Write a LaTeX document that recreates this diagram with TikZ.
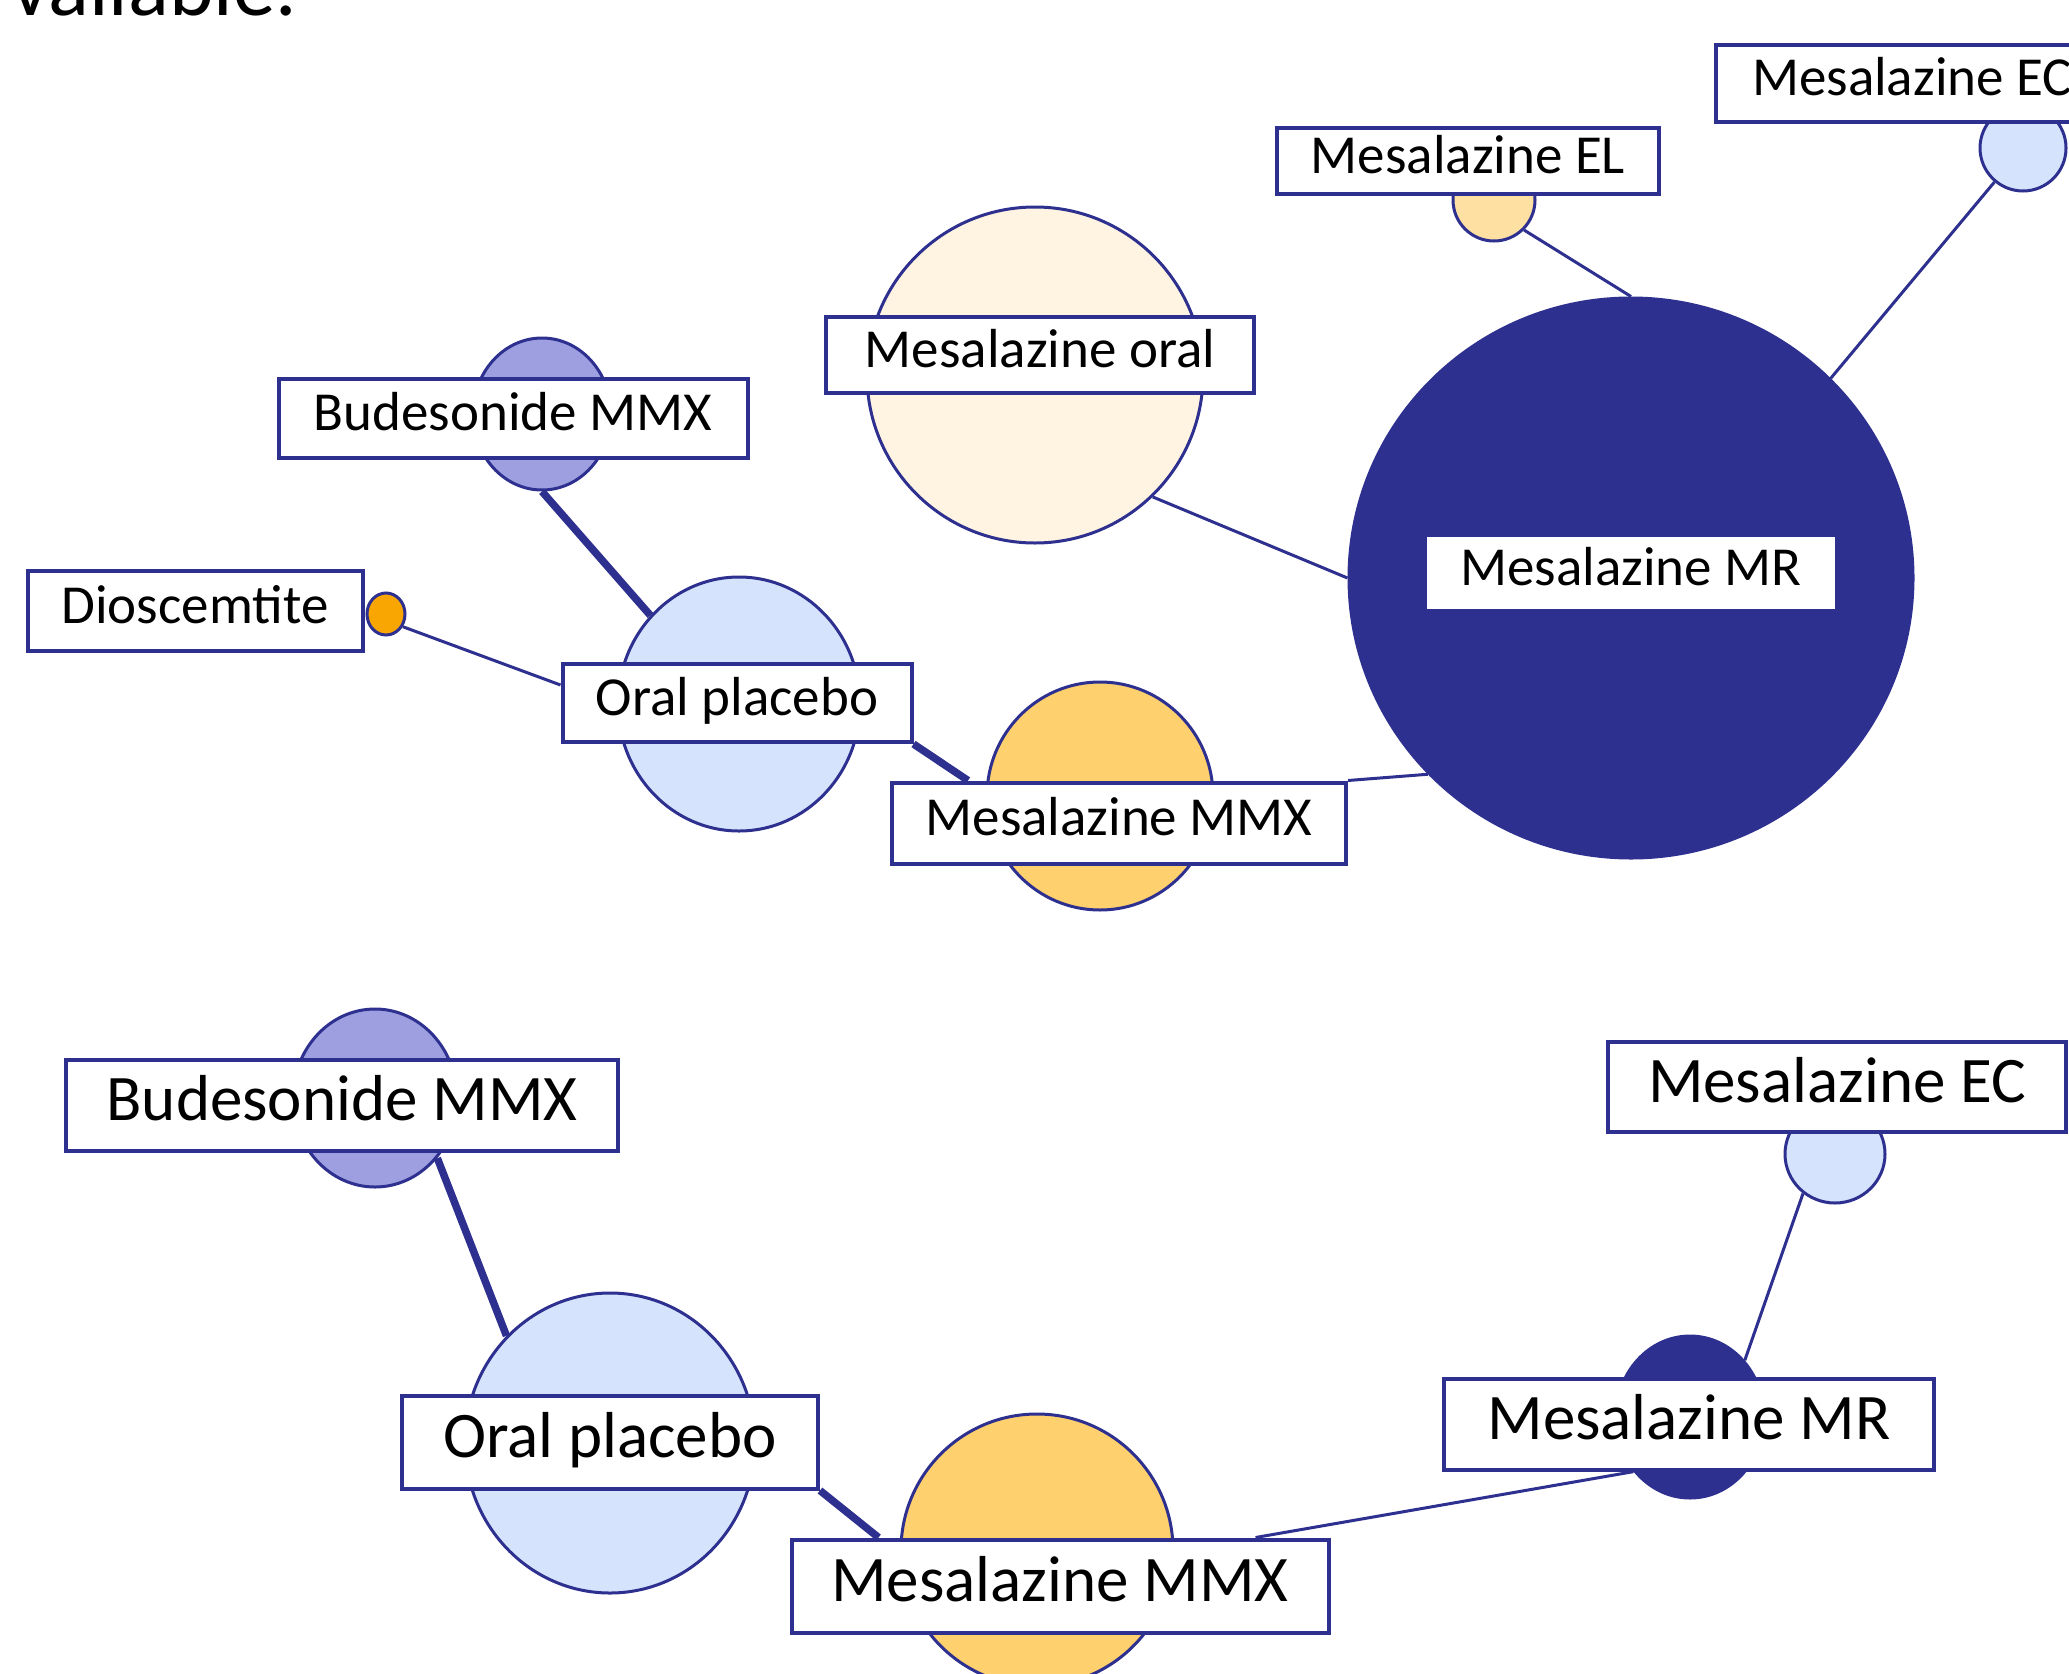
\documentclass[tikz,border=0pt]{standalone}
\usepackage{fontspec}
\setmainfont{Carlito}
\usetikzlibrary{shapes.geometric, backgrounds}

\definecolor{navy}{HTML}{2E3090}
\definecolor{paleblue}{HTML}{D5E3FC}
\definecolor{lavender}{HTML}{9D9FE0}
\definecolor{mmxorange}{HTML}{FFD06E}
\definecolor{elorange}{HTML}{FFE0A3}
\definecolor{cream}{HTML}{FFF4E1}
\definecolor{dioorange}{HTML}{F9A602}

\newcommand{\topfont}{\fontsize{55pt}{66pt}\selectfont}
\newcommand{\lowfont}{\fontsize{65pt}{78pt}\selectfont}

\begin{document}
\begin{tikzpicture}[x=1pt, y=-1pt,
    bubble/.style={ellipse, draw=navy, line width=3pt, inner sep=0pt},
    tag/.style={rectangle, draw=navy, line width=4pt, fill=white, inner sep=0pt},
    toptag/.style={tag, font=\topfont, text height=36pt, text depth=11pt},
    lowtag/.style={tag, font=\lowfont, text height=43pt, text depth=13pt},
    thinedge/.style={draw=navy, line width=3pt},
    thickedge/.style={draw=navy, line width=7.5pt}]

    \useasboundingbox (0,0) rectangle (2069,1673);

    \node (avail) [anchor=base west, font=\fontsize{85pt}{100pt}\selectfont] at (8,15) {vailable.};

    % Upper network: bubbles
    \node (ecC) [bubble, fill=paleblue, minimum width=86pt, minimum height=86pt] at (2023,148) {};
    \node (elC) [bubble, fill=elorange, minimum width=82pt, minimum height=82pt] at (1494,200) {};
    \node (oralC) [bubble, fill=cream, minimum width=336pt, minimum height=336pt] at (1035,375) {};
    \node (budC) [bubble, fill=lavender, minimum width=138pt, minimum height=152pt] at (542,414) {};
    \node (dioC) [bubble, fill=dioorange, minimum width=38pt, minimum height=42pt] at (386,614) {};
    \node (opC) [bubble, fill=paleblue, minimum width=242pt, minimum height=254pt] at (739,704) {};
    \node (mmxC) [bubble, fill=mmxorange, minimum width=226pt, minimum height=228pt] at (1100,796) {};
    \node (mrC) [bubble, fill=navy, minimum width=564pt, minimum height=560pt] at (1631,578) {};

    % Upper network: labels
    \node (ecB) [toptag, minimum width=392pt, minimum height=77pt] at (1912,83) {Mesalazine EC};
    \node (elB) [toptag, minimum width=382pt, minimum height=66pt] at (1468,161) {Mesalazine EL};
    \node (oralB) [toptag, minimum width=428pt, minimum height=76pt] at (1040,355) {Mesalazine oral};
    \node (budB) [toptag, minimum width=469pt, minimum height=79pt] at (513,418) {Budesonide MMX};
    \node (dioB) [toptag, minimum width=335pt, minimum height=80pt] at (195,611) {Dioscemtite};
    \node (opB) [toptag, minimum width=349pt, minimum height=78pt] at (737,703) {Oral placebo};
    \node (mmxB) [toptag, minimum width=454pt, minimum height=81pt] at (1119,823) {Mesalazine MMX};
    \node (mrB) [toptag, line width=1pt, minimum width=409pt, minimum height=73pt] at (1631,573) {Mesalazine MR};

    % Lower network: bubbles
    \node (budC2) [bubble, fill=lavender, minimum width=164pt, minimum height=178pt] at (375,1098) {};
    \node (opC2) [bubble, fill=paleblue, minimum width=290pt, minimum height=300pt] at (610,1443) {};
    \node (mmxC2) [bubble, fill=mmxorange, minimum width=272pt, minimum height=272pt] at (1037,1550) {};
    \node (mrC2) [bubble, fill=navy, minimum width=148pt, minimum height=162pt] at (1690,1417) {};
    \node (ecC2) [bubble, fill=paleblue, minimum width=100pt, minimum height=98pt] at (1835,1154) {};

    % Lower network: labels
    \node (budB2) [lowtag, minimum width=552pt, minimum height=91pt] at (342,1105) {Budesonide MMX};
    \node (opB2) [lowtag, minimum width=416pt, minimum height=93pt] at (610,1442) {Oral placebo};
    \node (mmxB2) [lowtag, minimum width=537pt, minimum height=93pt] at (1060,1586) {Mesalazine MMX};
    \node (mrB2) [lowtag, minimum width=490pt, minimum height=91pt] at (1689,1424) {Mesalazine MR};
    \node (ecB2) [lowtag, minimum width=458pt, minimum height=90pt] at (1837,1087) {Mesalazine EC};

    % Comparisons
    \begin{pgfonlayer}{background}
        \draw[thinedge] (elC.-45) -- (mrC.north);
        \draw[thinedge] (ecC.230) -- (mrC.45);
        \draw[thinedge] (oralC.-46) -- (mrC.west);
        \draw[thinedge] (mmxB.north east) -- (mrC.224);
        \draw[thickedge] (budC.south) -- (opC.135);
        \draw[thinedge] (dioC.-37) -- ([yshift=18pt]opB.west);
        \draw[thickedge] (opB.south east) -- ([xshift=78pt]mmxB.north west);

        \draw[thickedge] (budC2.-44) -- (opC2.134);
        \draw[thickedge] (opB2.south east) -- ([xshift=89pt]mmxB2.north west);
        \draw[thinedge] ([xshift=-75pt]mmxB2.north east) -- (mrC2.224);
        \draw[thinedge] (mrC2.46) -- (ecC2.231);
    \end{pgfonlayer}

\end{tikzpicture}
\end{document}
